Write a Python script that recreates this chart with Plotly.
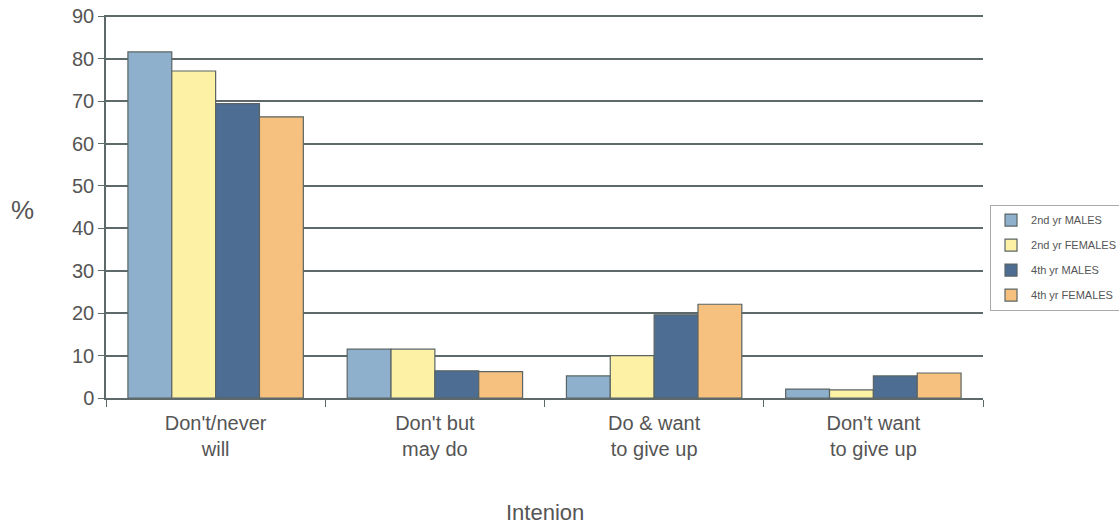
import plotly.graph_objects as go

categories = ["Don't/never<br>will", "Don't but<br>may do", "Do &amp; want<br>to give up", "Don't want<br>to give up"]
series_names = ["2nd yr MALES", "2nd yr FEMALES", "4th yr MALES", "4th yr FEMALES"]
males_2nd = [81.6, 11.5, 5.2, 2.1]
females_2nd = [77.1, 11.5, 10.0, 1.9]
males_4th = [69.4, 6.4, 19.6, 5.2]
females_4th = [66.3, 6.2, 22.1, 5.9]
y_ticks = [0, 10, 20, 30, 40, 50, 60, 70, 80, 90]

colors = ["#8fb0cc", "#fdf1a6", "#4e6d92", "#f6c07f"]
values = [males_2nd, females_2nd, males_4th, females_4th]

fig = go.Figure()
for i, (name, vals) in enumerate(zip(series_names, values)):
    fig.add_trace(go.Bar(
        x=categories, y=vals, name=name, legendgroup=name,
        marker=dict(color=colors[i], line=dict(color="#5a6464", width=1.2)),
    ))

grey = "#5e6a6a"
fig.update_layout(
    width=1119, height=524,
    margin=dict(l=106, r=136, t=15, b=126, autoexpand=False),
    paper_bgcolor="white", plot_bgcolor="white",
    barmode="group", bargap=0.2, bargroupgap=0,
    font=dict(family="Liberation Sans, Arial, sans-serif", color="#555"),
    xaxis=dict(
        type="category", tickson="boundaries", ticks="outside", ticklen=7,
        tickcolor=grey, tickwidth=1, showline=True, linecolor=grey, linewidth=1.5,
        showgrid=False, tickfont=dict(size=20, color="#555"), ticklabelstandoff=6,
    ),
    yaxis=dict(
        range=[0, 90.3], tickvals=y_ticks, ticks="outside", ticklen=6,
        tickcolor=grey, showline=True, linecolor=grey, linewidth=1.5,
        showgrid=True, gridcolor=grey, gridwidth=1.5, zeroline=False,
        tickfont=dict(size=20, color="#555"),
    ),
    legend=dict(
        x=1.008, y=0.505, xanchor="left", yanchor="top",
        bordercolor="#aaa", borderwidth=1, bgcolor="white",
        font=dict(size=11, color="#555"), tracegroupgap=6,
    ),
    annotations=[
        dict(text="%", xref="paper", yref="paper", x=-0.095, y=0.492,
             xanchor="center", yanchor="middle",
             showarrow=False, font=dict(size=26, color="#555")),
        dict(text="Intenion", xref="paper", yref="paper", x=0.5, y=-0.298,
             xanchor="center", yanchor="middle", showarrow=False,
             font=dict(size=22, color="#555")),
    ],
)

fig.write_html("out.html")
